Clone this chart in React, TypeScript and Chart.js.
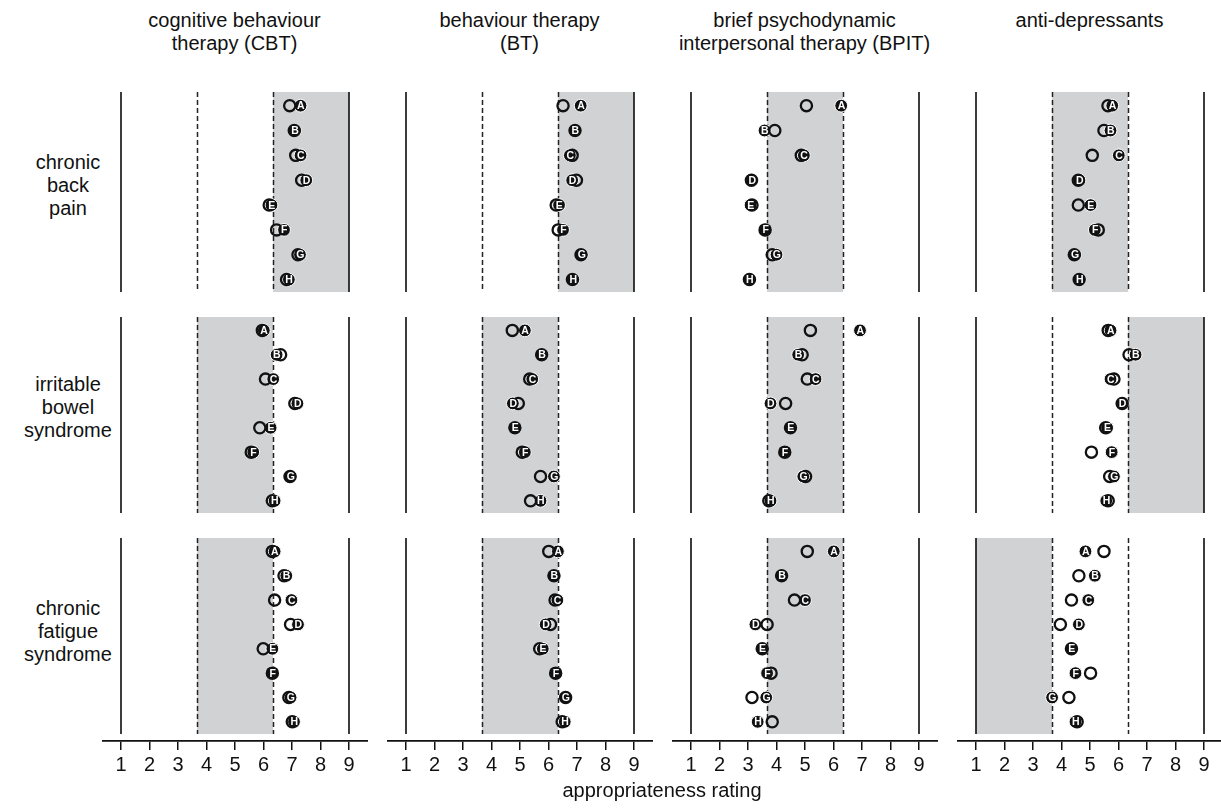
import React, { useEffect, useRef } from "react";
import { Chart, registerables } from "chart.js";

Chart.register(...registerables);

// ---------- categories / labels ----------
const LETTERS = ["A", "B", "C", "D", "E", "F", "G", "H"];
const TREATMENTS = [
  ["cognitive behaviour", "therapy (CBT)"],
  ["behaviour therapy", "(BT)"],
  ["brief psychodynamic", "interpersonal therapy (BPIT)"],
  ["anti-depressants"],
];
const CONDITIONS = [
  ["chronic", "back", "pain"],
  ["irritable", "bowel", "syndrome"],
  ["chronic", "fatigue", "syndrome"],
];
const TICKS = [1, 2, 3, 4, 5, 6, 7, 8, 9];
const X_AXIS_TITLE = "appropriateness rating";

const SCALE_MIN = 1;
const SCALE_MAX = 9;
const BAND_LOW = 1 + 8 / 3;
const BAND_HIGH = 1 + 16 / 3;

// ---------- values: open circle (unlabelled) and labelled filled circle ----------
// chronic back pain
const BACK_CBT_OPEN = [6.92, 7.08, 7.13, 7.34, 6.2, 6.46, 7.21, 6.81];
const BACK_CBT_FILLED = [7.3, 7.1, 7.3, 7.5, 6.28, 6.72, 7.28, 6.89];
const BACK_BT_OPEN = [6.51, 6.93, 6.83, 6.98, 6.27, 6.34, 7.14, 6.84];
const BACK_BT_FILLED = [7.13, 6.93, 6.75, 6.83, 6.37, 6.51, 7.16, 6.86];
const BACK_BPIT_OPEN = [5.05, 3.94, 4.87, 3.12, 3.14, 3.6, 3.85, 3.05];
const BACK_BPIT_FILLED = [6.27, 3.58, 4.96, 3.14, 3.09, 3.61, 4.0, 3.05];
const BACK_AD_OPEN = [5.63, 5.49, 5.08, 4.59, 4.59, 5.29, 4.45, 4.62];
const BACK_AD_FILLED = [5.78, 5.72, 6.01, 4.63, 5.02, 5.17, 4.47, 4.63];

// irritable bowel syndrome
const IBS_CBT_OPEN = [5.96, 6.6, 6.07, 7.1, 5.87, 5.57, 6.93, 6.31];
const IBS_CBT_FILLED = [6.01, 6.46, 6.34, 7.19, 6.25, 5.64, 6.95, 6.39];
const IBS_BT_OPEN = [4.73, 5.76, 5.34, 4.94, 4.82, 5.08, 5.72, 5.37];
const IBS_BT_FILLED = [5.17, 5.76, 5.43, 4.75, 4.82, 5.17, 6.19, 5.72];
const IBS_BPIT_OPEN = [5.19, 4.9, 5.08, 4.32, 4.49, 4.29, 5.02, 3.73];
const IBS_BPIT_FILLED = [6.93, 4.76, 5.37, 3.79, 4.49, 4.29, 4.94, 3.79];
const IBS_AD_OPEN = [5.64, 6.37, 5.84, 6.13, 5.55, 5.05, 5.69, 5.64];
const IBS_AD_FILLED = [5.72, 6.6, 5.72, 6.13, 5.6, 5.76, 5.84, 5.57];

// chronic fatigue syndrome
const CFS_CBT_OPEN = [6.31, 6.72, 6.39, 6.95, 5.99, 6.31, 6.89, 7.01];
const CFS_CBT_FILLED = [6.39, 6.8, 6.98, 7.21, 6.31, 6.31, 6.95, 7.07];
const CFS_BT_OPEN = [6.01, 6.19, 6.23, 6.07, 5.69, 6.25, 6.6, 6.48];
const CFS_BT_FILLED = [6.33, 6.19, 6.31, 5.9, 5.8, 6.25, 6.6, 6.57];
const CFS_BPIT_OPEN = [5.08, 4.18, 4.63, 3.67, 3.5, 3.81, 3.14, 3.85];
const CFS_BPIT_FILLED = [6.01, 4.18, 5.0, 3.26, 3.5, 3.67, 3.64, 3.34];
const CFS_AD_OPEN = [5.49, 4.61, 4.35, 3.96, 4.35, 5.02, 4.26, 4.55];
const CFS_AD_FILLED = [4.84, 5.17, 4.94, 4.61, 4.35, 4.49, 3.67, 4.49];

// shaded band per panel [from, to]
const BACK_SHADE = [[BAND_HIGH, SCALE_MAX], [BAND_HIGH, SCALE_MAX], [BAND_LOW, BAND_HIGH], [BAND_LOW, BAND_HIGH]];
const IBS_SHADE = [[BAND_LOW, BAND_HIGH], [BAND_LOW, BAND_HIGH], [BAND_LOW, BAND_HIGH], [BAND_HIGH, SCALE_MAX]];
const CFS_SHADE = [[BAND_LOW, BAND_HIGH], [BAND_LOW, BAND_HIGH], [BAND_LOW, BAND_HIGH], [SCALE_MIN, BAND_LOW]];

const OPEN_ROWS = [
  [BACK_CBT_OPEN, BACK_BT_OPEN, BACK_BPIT_OPEN, BACK_AD_OPEN],
  [IBS_CBT_OPEN, IBS_BT_OPEN, IBS_BPIT_OPEN, IBS_AD_OPEN],
  [CFS_CBT_OPEN, CFS_BT_OPEN, CFS_BPIT_OPEN, CFS_AD_OPEN],
];
const FILLED_ROWS = [
  [BACK_CBT_FILLED, BACK_BT_FILLED, BACK_BPIT_FILLED, BACK_AD_FILLED],
  [IBS_CBT_FILLED, IBS_BT_FILLED, IBS_BPIT_FILLED, IBS_AD_FILLED],
  [CFS_CBT_FILLED, CFS_BT_FILLED, CFS_BPIT_FILLED, CFS_AD_FILLED],
];
const SHADE_ROWS = [BACK_SHADE, IBS_SHADE, CFS_SHADE];

// ---------- layout ----------
const FONT = "'Liberation Sans', Arial, Helvetica, sans-serif";
const PANEL_LEFT0 = 101.7;
const PANEL_STEP = 285;
const PANEL_W = 265.6;
const ROW_TOPS = [92, 317, 538];
const ROW_HEIGHTS = [200, 196, 196];
const AXIS_GAP = 7;
const AXIS_H = 42;
const X_MIN = 1 / 3;
const X_MAX = 9 + 2 / 3;
const Y_MIN = -0.55;
const Y_MAX = 7.5;

const decorPlugin = {
  id: "panelDecor",
  beforeDatasetsDraw(chart: any, _args: any, opts: any) {
    const { ctx } = chart;
    const xs = chart.scales.x;
    const ys = chart.scales.y;
    const top = ys.getPixelForValue(Y_MIN);
    const bottom = ys.getPixelForValue(Y_MAX);
    const shade = opts.shade as number[];
    ctx.save();
    ctx.fillStyle = "#d1d2d4";
    const x0 = xs.getPixelForValue(shade[0]);
    const x1 = xs.getPixelForValue(shade[1]);
    ctx.fillRect(x0, top, x1 - x0, bottom - top);
    ctx.strokeStyle = "#222";
    ctx.lineWidth = 1.5;
    ctx.setLineDash([5, 3]);
    [BAND_LOW, BAND_HIGH].forEach((v) => {
      const x = Math.round(xs.getPixelForValue(v)) + 0.5;
      ctx.beginPath();
      ctx.moveTo(x, top);
      ctx.lineTo(x, bottom);
      ctx.stroke();
    });
    ctx.setLineDash([]);
    ctx.lineWidth = 1.7;
    ctx.strokeStyle = "#1a1a1a";
    [SCALE_MIN, SCALE_MAX].forEach((v) => {
      const x = xs.getPixelForValue(v);
      ctx.beginPath();
      ctx.moveTo(x, top);
      ctx.lineTo(x, bottom);
      ctx.stroke();
    });
    ctx.restore();
  },
  afterDatasetsDraw(chart: any) {
    const { ctx } = chart;
    const meta = chart.getDatasetMeta(1);
    ctx.save();
    ctx.fillStyle = "#fff";
    ctx.font = `bold 10.5px ${FONT}`;
    ctx.textAlign = "center";
    ctx.textBaseline = "middle";
    meta.data.forEach((pt: any, i: number) => {
      ctx.fillText(LETTERS[i], pt.x + 0.3, pt.y + 0.7);
    });
    ctx.restore();
  },
};

function Panel({ row, col }: { row: number; col: number }) {
  const ref = useRef<HTMLCanvasElement>(null);
  const isBottom = row === 2;
  const areaH = ROW_HEIGHTS[row] + (isBottom ? AXIS_GAP : 0);
  const yMax = Y_MAX + (isBottom ? (AXIS_GAP * (Y_MAX - Y_MIN)) / ROW_HEIGHTS[row] : 0);
  const canvasH = areaH + (isBottom ? AXIS_H : 0);

  useEffect(() => {
    if (!ref.current) return;
    const open = OPEN_ROWS[row][col];
    const filled = FILLED_ROWS[row][col];
    const chart = new Chart(ref.current, {
      type: "scatter",
      data: {
        datasets: [
          {
            label: "open",
            data: open.map((v, i) => ({ x: v, y: i })),
            pointRadius: 5.6,
            pointBackgroundColor: "rgba(0,0,0,0)",
            backgroundColor: "rgba(0,0,0,0)",
            pointBorderColor: "#111",
            borderColor: "#111",
            pointBorderWidth: 2.3,
            borderWidth: 2.3,
            clip: false,
          } as any,
          {
            label: "filled",
            data: filled.map((v, i) => ({ x: v, y: i })),
            pointRadius: 6.4,
            pointBackgroundColor: "#111",
            backgroundColor: "#111",
            pointBorderColor: "#fff",
            borderColor: "#fff",
            pointBorderWidth: 1,
            borderWidth: 1,
            clip: false,
          } as any,
        ],
      },
      options: {
        animation: false,
        responsive: false,
        maintainAspectRatio: false,
        events: [],
        layout: { padding: 0, autoPadding: false } as any,
        plugins: {
          legend: { display: false },
          tooltip: { enabled: false },
          panelDecor: { shade: SHADE_ROWS[row][col] },
        } as any,
        scales: {
          x: {
            type: "linear",
            min: X_MIN,
            max: X_MAX,
            display: isBottom,
            afterBuildTicks: (scale: any) => {
              scale.ticks = TICKS.map((v) => ({ value: v }));
            },
            afterFit: (scale: any) => {
              if (isBottom) scale.height = AXIS_H;
            },
            ticks: {
              color: "#111",
              font: { family: FONT, size: 20 },
              padding: 3,
              maxRotation: 0,
              autoSkip: false,
              callback: (v: any) => String(v),
            },
            grid: {
              display: true,
              drawOnChartArea: false,
              drawTicks: true,
              tickLength: 9,
              color: "#111",
              lineWidth: 1.5,
            },
            border: { display: true, color: "#111", width: 1.8 },
          },
          y: {
            type: "linear",
            min: Y_MIN,
            max: yMax,
            reverse: true,
            display: false,
          },
        },
      },
      plugins: [decorPlugin],
    });
    return () => chart.destroy();
  }, [row, col]);

  return (
    <canvas
      ref={ref}
      width={Math.round(PANEL_W)}
      height={Math.round(canvasH)}
      style={{
        position: "absolute",
        left: PANEL_LEFT0 + PANEL_STEP * col,
        top: ROW_TOPS[row],
        width: Math.round(PANEL_W),
        height: Math.round(canvasH),
      }}
    />
  );
}

export default function App() {
  const textStyle: React.CSSProperties = {
    position: "absolute",
    fontFamily: FONT,
    fontSize: 20,
    lineHeight: "23px",
    color: "#111",
    textAlign: "center",
    whiteSpace: "nowrap",
  };
  const rowLabelTops = [150.5, 372.5, 596.5];
  return (
    <div
      style={{
        position: "absolute",
        left: 0,
        top: 0,
        width: 1221,
        height: 808,
        background: "#fff",
        overflow: "hidden",
      }}
    >
      {TREATMENTS.map((lines, c) => (
        <div
          key={"t" + c}
          style={{
            ...textStyle,
            left: PANEL_LEFT0 + PANEL_STEP * c + PANEL_W / 2 - 150,
            width: 300,
            top: 8.5,
          }}
        >
          {lines.map((l, i) => (
            <div key={i}>{l}</div>
          ))}
        </div>
      ))}
      {CONDITIONS.map((lines, r) => (
        <div
          key={"c" + r}
          style={{ ...textStyle, left: 0, width: 136, top: rowLabelTops[r] }}
        >
          {lines.map((l, i) => (
            <div key={i}>{l}</div>
          ))}
        </div>
      ))}
      {[0, 1, 2].map((r) =>
        [0, 1, 2, 3].map((c) => <Panel key={r + "-" + c} row={r} col={c} />)
      )}
      <div style={{ ...textStyle, left: 512, width: 300, top: 779 }}>{X_AXIS_TITLE}</div>
    </div>
  );
}
